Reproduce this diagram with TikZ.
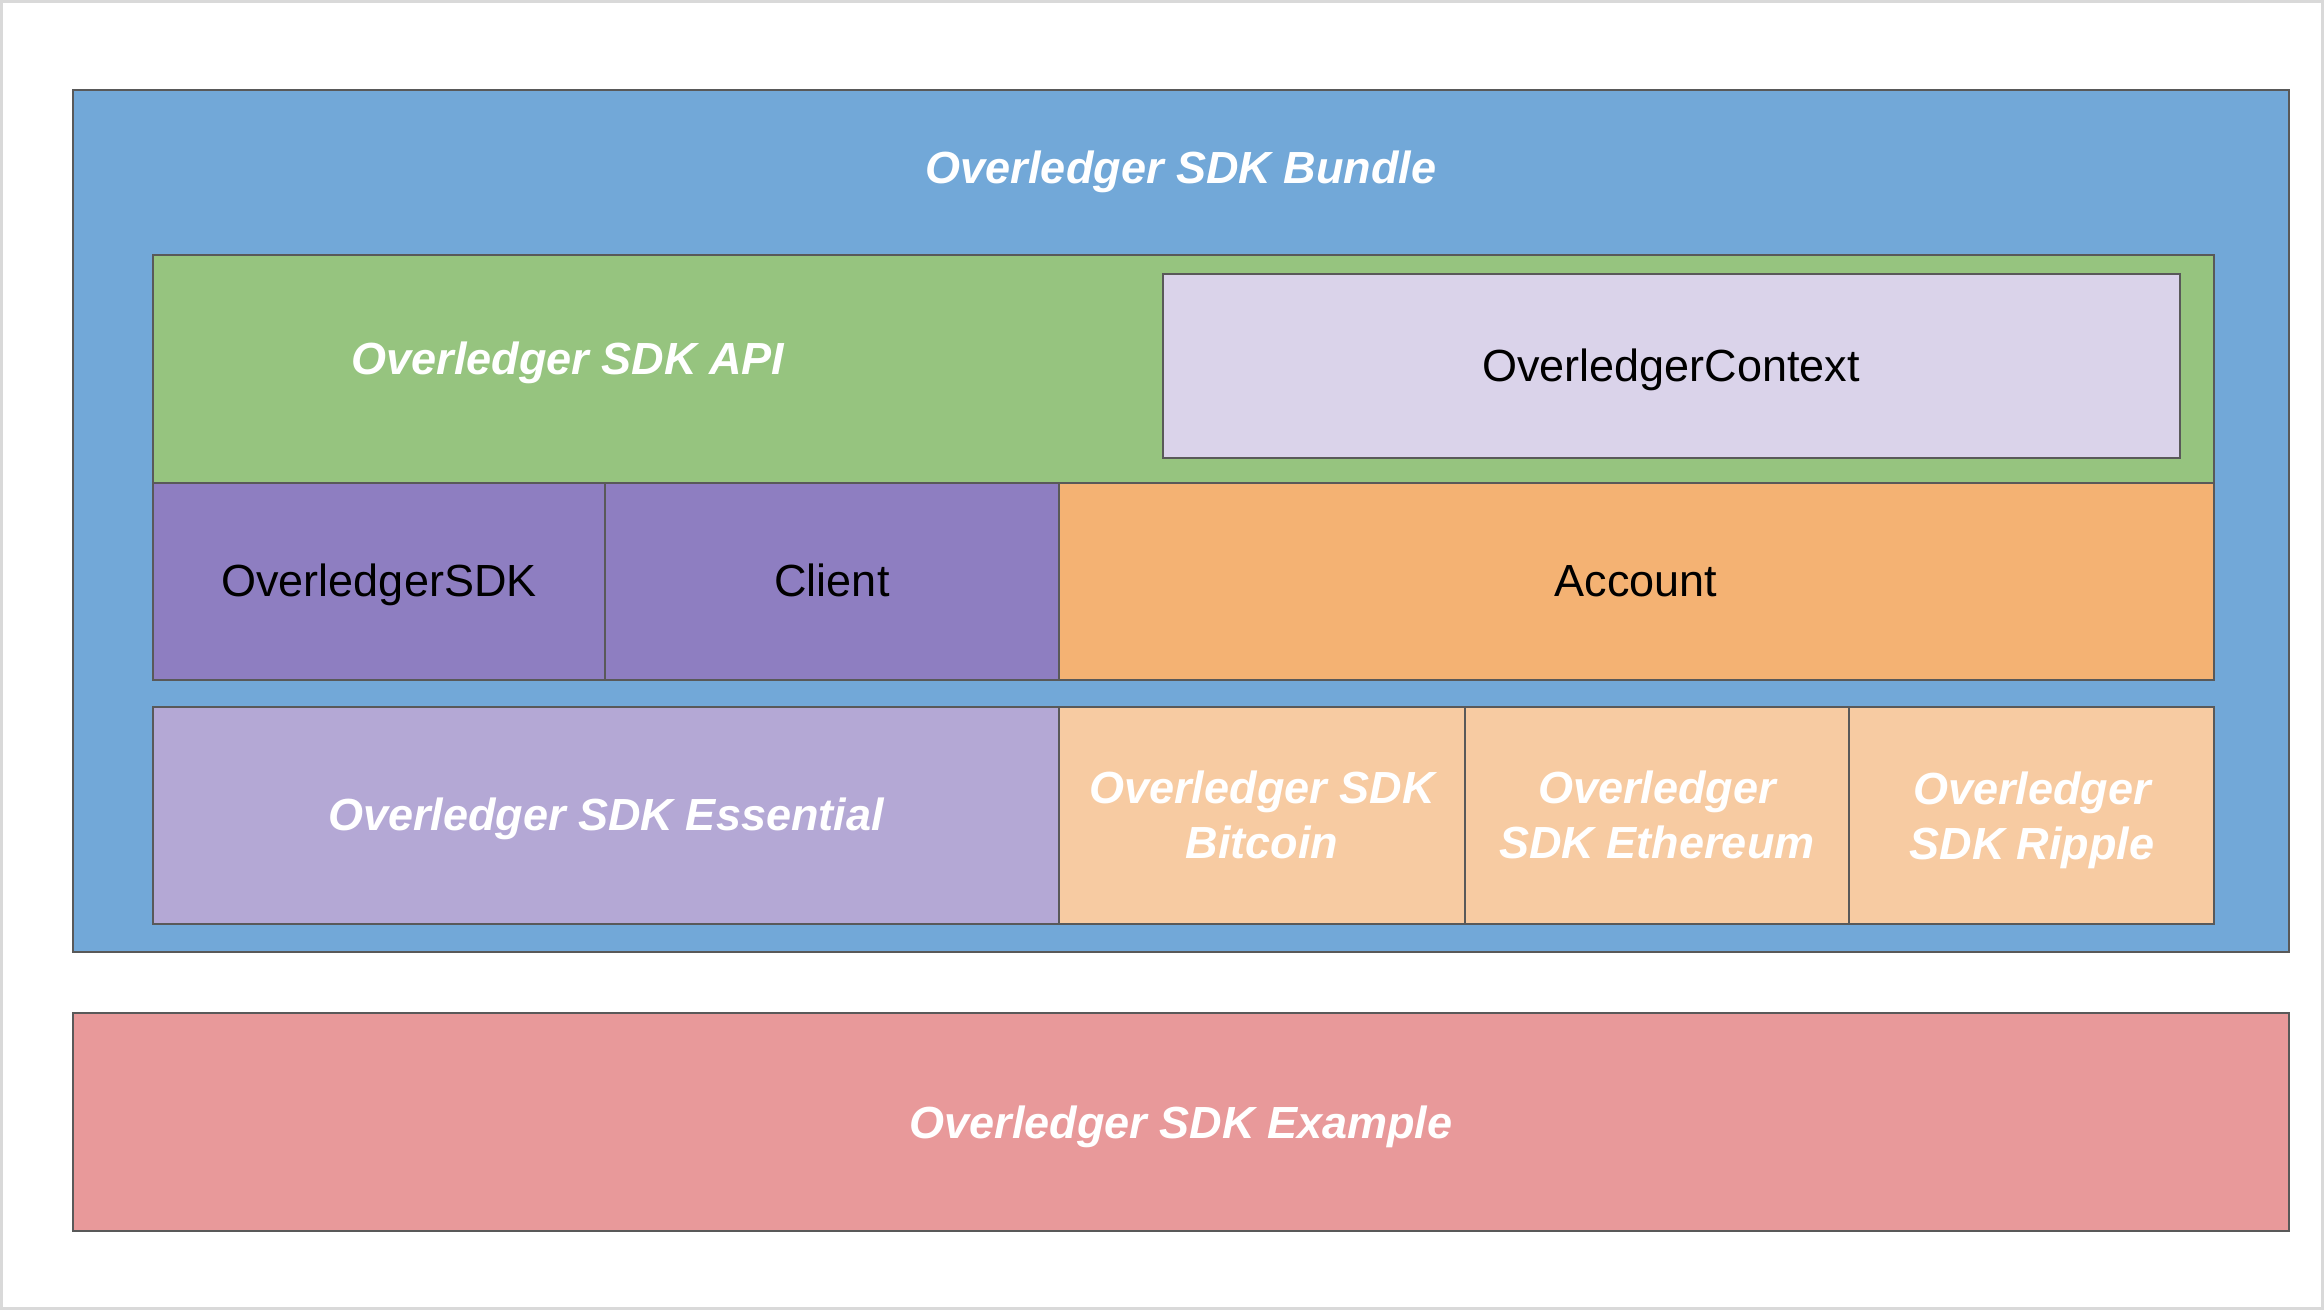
\documentclass[tikz,border=0pt]{standalone}
\usepackage{fontspec}
\setmainfont{Liberation Sans}
\definecolor{bundleblue}{HTML}{72A8D8}
\definecolor{apigreen}{HTML}{96C47F}
\definecolor{contextlilac}{HTML}{DAD3EA}
\definecolor{sdkpurple}{HTML}{8E7EC1}
\definecolor{accountorange}{HTML}{F4B273}
\definecolor{essentiallilac}{HTML}{B4A8D5}
\definecolor{chainpeach}{HTML}{F7CBA2}
\definecolor{examplepink}{HTML}{E8999A}
\definecolor{boxline}{HTML}{595959}
\definecolor{framegray}{HTML}{D9D9D9}
\tikzset{
  box/.style={draw=boxline, line width=0.5pt},
  title/.style={font=\fontsize{12.8}{15.6}\selectfont\bfseries\itshape, text=white, align=center},
  classtext/.style={font=\fontsize{12.8}{15.6}\selectfont, text=black, anchor=base}
}
\begin{document}
\begin{tikzpicture}[x=0.01cm, y=-0.01cm]
    \useasboundingbox (0,0) rectangle (2324,1310);
    \draw[framegray, line width=0.03cm] (1.5,1.5) rectangle (2322.5,1308.5);
    % === Bundle ===
    \draw[box, fill=bundleblue] (73,90) rectangle (2289,952);
    \node[title, anchor=base] (bundle) at (1181,184) {Overledger SDK Bundle};
    % === API ===
    \draw[box, fill=apigreen] (153,255) rectangle (2214,483);
    \node[title, anchor=base] (api) at (568,375) {Overledger SDK API};
    \draw[box, fill=contextlilac] (1163,274) rectangle (2180,458);
    \node[classtext] (context) at (1671,382) {OverledgerContext};
    % Classi
    \draw[box, fill=sdkpurple] (153,483) rectangle (605,680);
    \node[classtext] (sdk) at (379,597) {OverledgerSDK};
    \draw[box, fill=sdkpurple] (605,483) rectangle (1059,680);
    \node[classtext] (client) at (832,597) {Client};
    \draw[box, fill=accountorange] (1059,483) rectangle (2214,680);
    \node[classtext] (account) at (1636,597) {Account};
    % === Pacchetti ===
    \draw[box, fill=essentiallilac] (153,707) rectangle (1059,924);
    \node[title, anchor=base] (essential) at (606,831) {Overledger SDK Essential};
    \draw[box, fill=chainpeach] (1059,707) rectangle (1465,924);
    \node[title] (bitcoin) at (1262,815) {Overledger SDK\\Bitcoin};
    \draw[box, fill=chainpeach] (1465,707) rectangle (1849,924);
    \node[title] (ethereum) at (1657,815) {Overledger\\SDK Ethereum};
    \draw[box, fill=chainpeach] (1849,707) rectangle (2214,924);
    \node[title] (ripple) at (2032,820) {Overledger\\SDK Ripple};
    % === Example ===
    \draw[box, fill=examplepink] (73,1013) rectangle (2289,1231);
    \node[title, anchor=base] (example) at (1181,1138) {Overledger SDK Example};
\end{tikzpicture}
\end{document}
